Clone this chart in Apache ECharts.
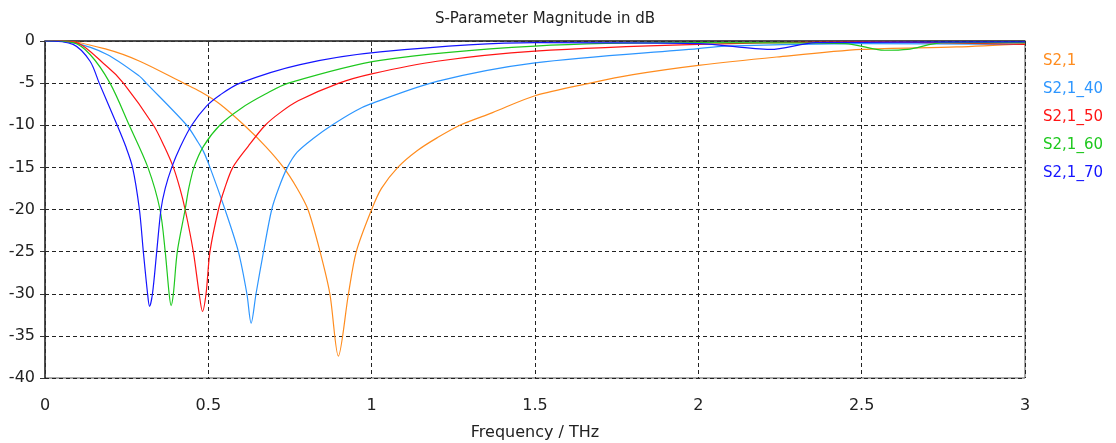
<!DOCTYPE html>
<html>
<head>
<meta charset="utf-8">
<script src="https://cdn.jsdelivr.net/npm/echarts@6/dist/echarts.min.js"></script>
<style>
  html, body { margin: 0; padding: 0; background: #fff; }
  #chart { width: 1116px; height: 443px; }
</style>
</head>
<body>
<div id="chart"></div>
<script>
// 曲线数据 (频率 THz / 幅度 dB)
const names = ['S2,1', 'S2,1_40', 'S2,1_50', 'S2,1_60', 'S2,1_70'];
const colors = ['#ff8c1e', '#2d96ff', '#ff1414', '#1ec81e', '#1414ff'];

const freq21 = [0, 0.06, 0.19, 0.29, 0.424, 0.475, 0.536, 0.61, 0.675, 0.73, 0.772, 0.805, 0.842, 0.872, 0.898, 0.929, 0.953, 1.0, 1.03, 1.08, 1.14, 1.2, 1.27, 1.37, 1.5, 1.669, 1.8, 2.0, 2.24, 2.5, 2.79, 3.0];
const db21 = [0, 0, -1.0, -2.4, -5, -6.0, -7.5, -10, -12.5, -15, -17.5, -20, -25, -30, -37.4, -30, -25, -20, -17.5, -15, -13, -11.5, -10, -8.5, -6.5, -5, -4.0, -2.9, -1.9, -1.0, -0.7, -0.3];

const freq40 = [0, 0.086, 0.19, 0.29, 0.31, 0.434, 0.465, 0.485, 0.505, 0.551, 0.592, 0.618, 0.631, 0.646, 0.669, 0.694, 0.715, 0.742, 0.772, 0.82, 0.878, 0.95, 0.995, 1.2, 1.5, 2.0, 2.08, 2.5, 3.0];
const db40 = [0, -0.2, -1.6, -4.2, -5, -10, -11.8, -13.1, -15, -20, -25, -30, -33.5, -30, -25, -20, -17.5, -15, -13.2, -11.6, -10, -8.3, -7.5, -4.8, -2.6, -0.9, -0.6, -0.3, -0.4];

const freq50 = [0, 0.086, 0.189, 0.24, 0.332, 0.365, 0.393, 0.413, 0.429, 0.454, 0.472, 0.482, 0.493, 0.505, 0.531, 0.55, 0.575, 0.622, 0.674, 0.72, 0.775, 0.9, 1.0, 1.2, 1.5, 2.0, 2.5, 3.0];
const db50 = [0, -0.1, -3.0, -5, -10, -12.5, -15, -17.5, -20, -25, -30, -32.1, -30, -25, -20, -17.5, -15, -12.5, -10, -8.5, -7.1, -5, -3.9, -2.4, -1.2, -0.4, -0.1, -0.4];

const freq60 = [0, 0.086, 0.138, 0.199, 0.258, 0.315, 0.352, 0.368, 0.38, 0.386, 0.393, 0.405, 0.429, 0.44, 0.456, 0.485, 0.535, 0.6, 0.675, 0.745, 1.026, 1.5, 2.0, 2.45, 2.57, 2.64, 2.75, 3.0];
const db60 = [0, -0.2, -1.6, -5, -10, -15, -20, -25, -30, -31.4, -30, -25, -20, -17.5, -15, -12.5, -10, -8, -6.3, -5, -2.3, -0.6, -0.2, -0.3, -1.1, -1.0, -0.2, -0.2];

const freq70 = [0, 0.086, 0.138, 0.166, 0.221, 0.247, 0.268, 0.289, 0.301, 0.314, 0.32, 0.329, 0.342, 0.355, 0.368, 0.388, 0.415, 0.449, 0.495, 0.536, 0.597, 0.781, 1.026, 1.5, 2.0, 2.22, 2.36, 3.0];
const db70 = [0, -0.4, -2.4, -5, -10, -12.5, -15, -20, -25, -30, -31.5, -30, -25, -20, -17.5, -15, -12.5, -10, -7.7, -6.4, -5, -2.8, -1.3, -0.2, -0.3, -1.0, -0.2, -0.1];

const freqs = [freq21, freq40, freq50, freq60, freq70];
const dbs = [db21, db40, db50, db60, db70];

const xTicks = { min: 0, max: 3, interval: 0.5 };
const yTicks = { min: -40, max: 0, interval: 5 };

(function () {
    let myChart = echarts.init(document.getElementById('chart'));
    const font = 'DejaVu Sans';
    let option = {
        animation: false,
        color: colors,
        title: {
            text: 'S-Parameter Magnitude in dB',
            left: 540,
            textAlign: 'center',
            top: 7,
            textStyle: { fontFamily: font, fontSize: 15, fontWeight: 'normal', color: '#222' }
        },
        legend: {
            orient: 'vertical',
            left: 1033,
            top: 49,
            itemWidth: 0,
            itemHeight: 0,
            itemGap: 13,
            icon: 'rect',
            data: names.map((n, i) => ({ name: n, textStyle: { color: colors[i] } })),
            textStyle: { fontFamily: font, fontSize: 15 }
        },
        grid: {
            left: 45, right: 91, top: 41, bottom: 65,
            outerBoundsMode: 'none',
            show: true, borderColor: '#555', borderWidth: 1
        },
        xAxis: {
            type: 'value',
            min: xTicks.min, max: xTicks.max, interval: xTicks.interval,
            name: 'Frequency / THz',
            nameLocation: 'middle',
            nameGap: 47,
            nameTextStyle: { fontFamily: font, fontSize: 16, color: '#222' },
            axisLine: { lineStyle: { color: '#333', width: 1.5 } },
            axisTick: { show: true, length: 5, lineStyle: { color: '#333' } },
            axisLabel: { fontFamily: font, fontSize: 16, color: '#222', margin: 20 },
            splitLine: { show: true, lineStyle: { color: '#222', type: [4, 3] } }
        },
        yAxis: {
            type: 'value',
            min: yTicks.min, max: yTicks.max, interval: yTicks.interval,
            axisLine: { show: true, lineStyle: { color: '#333', width: 1.5 } },
            axisTick: { show: true, length: 5, lineStyle: { color: '#333' } },
            axisLabel: { fontFamily: font, fontSize: 16, color: '#222', margin: 10 },
            splitLine: { show: true, lineStyle: { color: '#222', type: [4, 3] } }
        },
        series: names.map((n, i) => ({
            name: n,
            type: 'line',
            showSymbol: false,
            smooth: 0.3,
            lineStyle: { width: 1.2 },
            data: freqs[i].map((f, k) => [f, dbs[i][k]])
        }))
    };

    myChart.setOption(option);
    window.addEventListener('resize', function () {
        myChart.resize();
    });
})();
</script>
</body>
</html>
